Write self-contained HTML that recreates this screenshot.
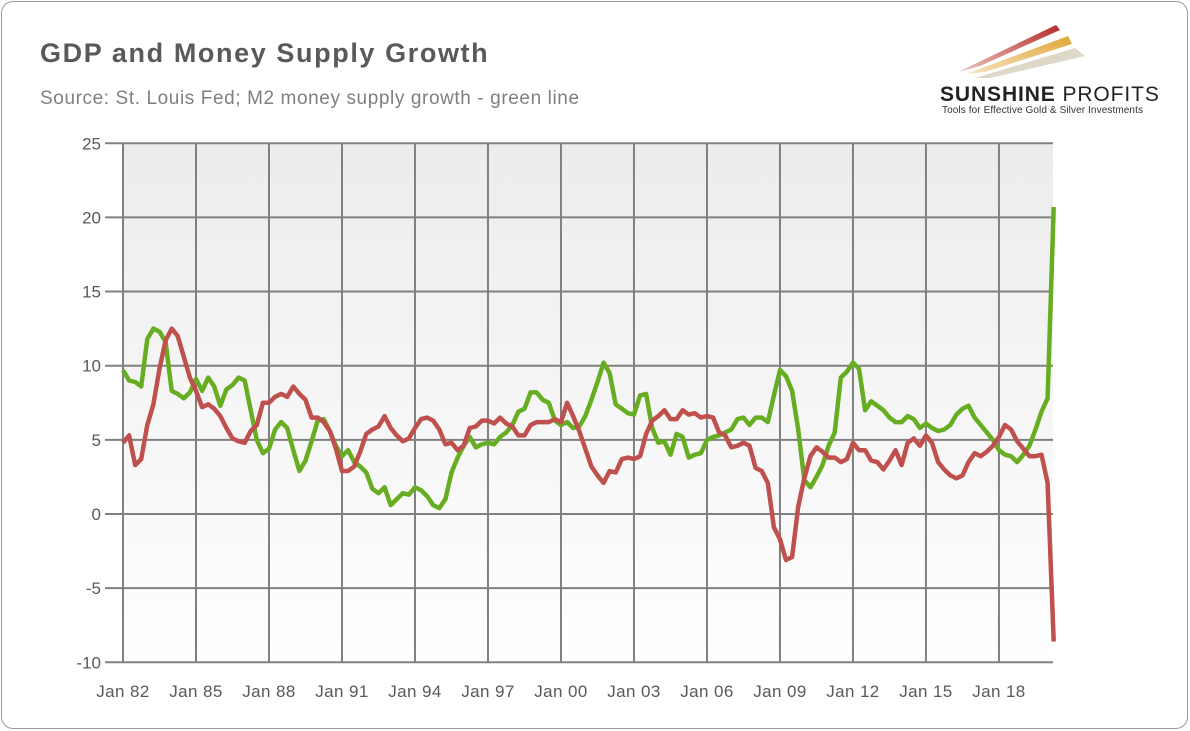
<!DOCTYPE html>
<html><head><meta charset="utf-8"><style>
body{margin:0;width:1190px;height:731px;background:#fff;overflow:hidden;font-family:"Liberation Sans",sans-serif}
#frame{position:absolute;left:1px;top:1px;width:1185px;height:726px;border:1.5px solid #9a9a9a;border-radius:12px;}
</style></head><body>
<div id="frame"></div>
<svg width="1190" height="731" style="position:absolute;left:0;top:0">
<defs>
<linearGradient id="bg" x1="0" y1="0" x2="0" y2="1"><stop offset="0" stop-color="#ececec"/><stop offset="1" stop-color="#ffffff"/></linearGradient>
<linearGradient id="s1" x1="0" y1="1" x2="1" y2="0"><stop offset="0" stop-color="#c0392b" stop-opacity="0.3"/><stop offset="1" stop-color="#b22a2a"/></linearGradient>
<linearGradient id="s2" x1="0" y1="1" x2="1" y2="0"><stop offset="0" stop-color="#e0a030" stop-opacity="0.3"/><stop offset="1" stop-color="#e0a838"/></linearGradient>
</defs>
<text x="40" y="62" font-size="27" font-weight="bold" fill="#595959" letter-spacing="1.6">GDP and Money Supply Growth</text>
<text x="40" y="104" font-size="19" fill="#7f7f7f" letter-spacing="0.6">Source: St. Louis Fed; M2 money supply growth - green line</text>
<g>
<polygon points="958,72 1056,25 1060,30 980,66" fill="url(#s1)"/>
<polygon points="966,74 1068,36 1072,44 985,72" fill="url(#s2)"/>
<polygon points="975,78 1075,48 1085,56 990,78" fill="#ddd8c8"/>
<text x="940" y="101" font-size="21" font-weight="bold" fill="#222" letter-spacing="0.9">SUNSHINE <tspan font-weight="normal">PROFITS</tspan></text>
<text x="942" y="113" font-size="10" fill="#333" letter-spacing="0.1">Tools for Effective Gold &amp; Silver Investments</text>
</g>
<rect x="123" y="144" width="930" height="519" fill="url(#bg)"/>
<g id="grid"></g><g id="lines"></g><g id="labels"></g>
</svg>
<script>
const yTicks=[25,20,15,10,5,0,-5,-10];
const xTickLabels=["Jan 82","Jan 85","Jan 88","Jan 91","Jan 94","Jan 97","Jan 00","Jan 03","Jan 06","Jan 09","Jan 12","Jan 15","Jan 18"];
const m2Growth=[9.7,9.0,8.9,8.6,11.8,12.5,12.3,11.6,8.3,8.1,7.8,8.2,9.1,8.3,9.2,8.6,7.3,8.4,8.7,9.2,9.0,7.0,5.0,4.1,4.4,5.7,6.2,5.8,4.3,2.9,3.6,4.9,6.3,6.4,5.6,4.6,3.9,4.3,3.5,3.2,2.8,1.7,1.4,1.8,0.6,1.0,1.4,1.3,1.8,1.6,1.2,0.6,0.4,1.0,2.8,3.8,4.6,5.2,4.5,4.7,4.8,4.7,5.2,5.5,6.0,6.9,7.1,8.2,8.2,7.7,7.5,6.3,6.0,6.2,5.8,5.9,6.6,7.7,8.9,10.2,9.5,7.4,7.1,6.8,6.7,8.0,8.1,5.8,4.8,4.9,4.0,5.4,5.2,3.8,4.0,4.1,5.0,5.2,5.3,5.5,5.7,6.4,6.5,6.0,6.5,6.5,6.2,8.0,9.7,9.3,8.3,5.7,2.3,1.8,2.5,3.3,4.6,5.5,9.2,9.6,10.2,9.8,7.0,7.6,7.3,7.0,6.5,6.2,6.2,6.6,6.4,5.8,6.1,5.8,5.6,5.7,6.0,6.7,7.1,7.3,6.5,6.0,5.5,5.0,4.3,4.0,3.9,3.5,4.0,4.6,5.7,6.9,7.8,20.7];
const gdpGrowth=[4.8,5.3,3.3,3.7,6.0,7.4,9.8,11.7,12.5,12.0,10.6,9.2,8.3,7.2,7.4,7.1,6.6,5.8,5.1,4.9,4.8,5.6,6.0,7.5,7.5,7.9,8.1,7.9,8.6,8.1,7.7,6.5,6.5,6.2,5.6,4.4,2.9,2.9,3.2,4.2,5.4,5.7,5.9,6.6,5.8,5.3,4.9,5.1,5.8,6.4,6.5,6.3,5.7,4.7,4.8,4.3,4.6,5.8,5.9,6.3,6.3,6.1,6.5,6.1,5.9,5.3,5.3,6.0,6.2,6.2,6.2,6.4,6.2,7.5,6.6,5.6,4.4,3.2,2.6,2.1,2.9,2.8,3.7,3.8,3.7,3.9,5.4,6.3,6.6,7.0,6.4,6.4,7.0,6.7,6.8,6.5,6.6,6.5,5.5,5.3,4.5,4.6,4.8,4.6,3.1,2.9,2.1,-0.9,-1.7,-3.1,-2.9,0.5,2.4,3.9,4.5,4.2,3.8,3.8,3.5,3.7,4.8,4.3,4.3,3.6,3.5,3.0,3.6,4.3,3.3,4.8,5.1,4.6,5.3,4.8,3.5,3.0,2.6,2.4,2.6,3.5,4.1,3.9,4.2,4.6,5.2,6.0,5.7,4.9,4.4,3.9,3.9,4.0,2.1,-8.6];
const NS="http://www.w3.org/2000/svg";
const X0=123,QW=6.083,Y0=514,PU=14.83;
function xPos(i){return X0+i*QW;}
function yPos(v){return Y0-v*PU;}
const grid=document.getElementById('grid'),lines=document.getElementById('lines'),labels=document.getElementById('labels');
function mk(tag,attrs,parent){const e=document.createElementNS(NS,tag);for(const k in attrs)e.setAttribute(k,attrs[k]);parent.appendChild(e);return e;}
yTicks.forEach(v=>{
  const l=mk('line',{x1:105,x2:1053,y1:yPos(v),y2:yPos(v),stroke:'#808080','stroke-width':2},grid);
  
  
  const t=mk('text',{x:101,y:yPos(v)+6,'text-anchor':'end','font-size':17,fill:'#595959'},labels);
  t.textContent=v;
  
  
});
xTickLabels.forEach((s,k)=>{
  const x=xPos(k*12);
  const l=mk('line',{x1:x,x2:x,y1:yPos(25),y2:yPos(-10),stroke:'#808080','stroke-width':2},grid);
  
  
  const t=mk('text',{x:x,y:697,'text-anchor':'middle','font-size':17,fill:'#595959','letter-spacing':0.4},labels);
  t.textContent=s;
  
  
});
function series(arr,color,name){
  const d=arr.map((v,i)=>(i?'L':'M')+xPos(i).toFixed(1)+','+yPos(v).toFixed(1)).join('');
  const p=mk('path',{d:d,fill:'none',stroke:color,'stroke-width':4.5,'stroke-linejoin':'round'},lines);
  
  
}
series(m2Growth,'#66ad22','m2-growth-line');
series(gdpGrowth,'#c0504d','gdp-growth-line');
</script>
</body></html>
